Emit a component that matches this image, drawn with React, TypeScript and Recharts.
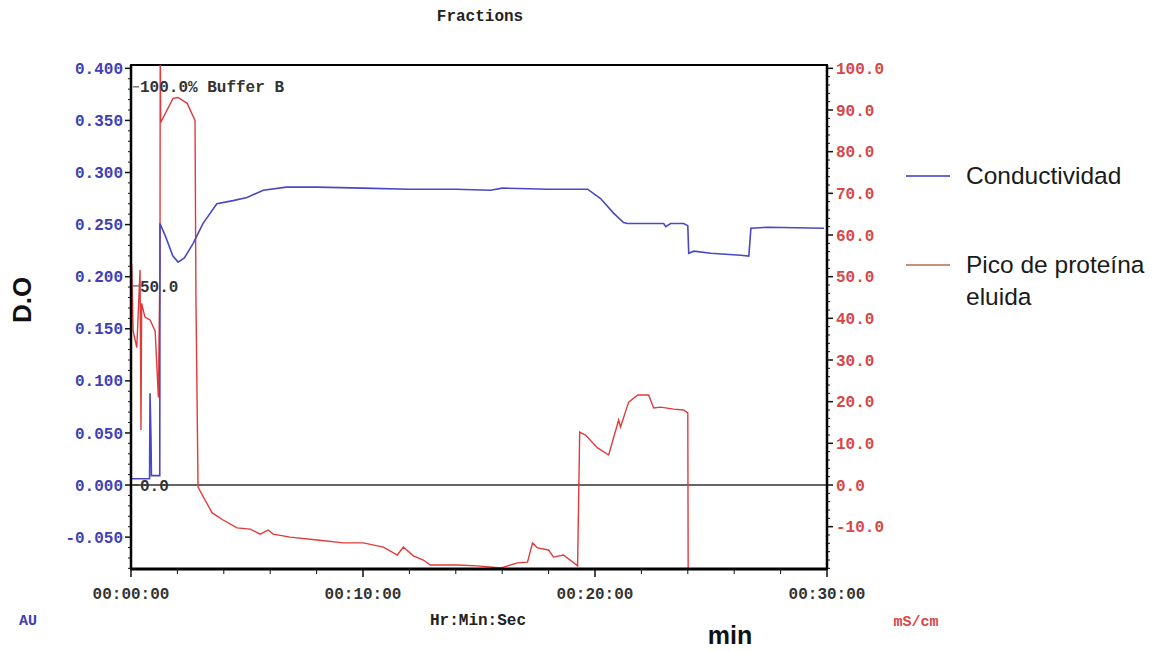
import { LineChart, Line, XAxis, YAxis, ReferenceLine, ReferenceArea, Legend } from "recharts";

// blue trace (left axis, AU)
const blueTimes = [0, 0.8, 0.82, 0.86, 0.88, 1.24, 1.25, 1.5, 1.8, 2.03, 2.3, 2.68, 3.1, 3.7, 4.4, 5.0, 5.7, 6.7, 8.0, 10, 12, 14, 15.5, 16, 18, 19.68, 20.24, 20.8, 21.23, 21.4, 22.96, 23.05, 23.26, 23.82, 24.0, 24.04, 24.26, 24.99, 26.28, 26.63, 26.72, 27.45, 29.87];
const blueOD = [0.006, 0.006, 0.088, 0.047, 0.009, 0.009, 0.251, 0.238, 0.22, 0.214, 0.218, 0.232, 0.251, 0.27, 0.273, 0.276, 0.283, 0.286, 0.286, 0.285, 0.284, 0.284, 0.283, 0.285, 0.284, 0.284, 0.275, 0.261, 0.252, 0.251, 0.251, 0.248, 0.251, 0.251, 0.249, 0.2225, 0.2245, 0.2225, 0.2206, 0.2197, 0.2465, 0.2475, 0.2465];

// red trace (right axis, mS/cm)
const redTimes = [0.03, 0.09, 0.25, 0.39, 0.43, 0.46, 0.6, 0.82, 1.04, 1.18, 1.25, 1.26, 1.28, 1.81, 2.03, 2.42, 2.76, 2.8, 2.89, 3.19, 3.5, 3.97, 4.57, 5.14, 5.57, 5.91, 6.13, 6.86, 8.03, 9.15, 10.01, 10.88, 11.48, 11.74, 12.17, 12.6, 12.9, 14.07, 14.93, 15.93, 16.06, 16.66, 17.09, 17.31, 17.52, 18.0, 18.21, 18.64, 19.25, 19.34, 19.59, 20.11, 20.59, 21.02, 21.1, 21.45, 21.84, 22.31, 22.53, 22.83, 23.39, 23.82, 24.0, 24.02];
const redCond = [53, 37, 33, 51.6, 13.2, 43.6, 40.3, 39.6, 37, 21, 54, 105, 87, 92.8, 93, 91.6, 87.5, 44.4, -0.5, -3.6, -6.7, -8.4, -10.3, -10.6, -11.8, -10.8, -11.8, -12.5, -13.2, -13.9, -13.9, -14.9, -16.8, -14.9, -17, -18, -19.2, -19.2, -19.4, -19.9, -19.7, -18.7, -18.5, -13.9, -15.1, -15.6, -17.3, -16.8, -19.4, 12.7, 12, 8.9, 7.2, 15.6, 13.9, 19.9, 21.6, 21.6, 18.5, 18.7, 18.2, 18, 17.3, -30];

const seriesNames = ["Conductividad", "Pico de proteína eluida"];
const timeLabelMinutes = [0, 10, 20, 30];
const timeLabels = ["00:00:00", "00:10:00", "00:20:00", "00:30:00"];
const leftLabels = [-0.05, 0, 0.05, 0.1, 0.15, 0.2, 0.25, 0.3, 0.35, 0.4];
const rightLabels = [-10, 0, 10, 20, 30, 40, 50, 60, 70, 80, 90, 100];
const bufferTicks = [0, 50, 100];
const bufferLabels = ["0.0", "50.0", "100.0% Buffer B"];

const blueData = blueTimes.map((t, i) => ({ t, od: blueOD[i] }));
const redData = redTimes.map((t, i) => ({ t, ms: redCond[i] }));

const leftTicks = Array.from({ length: 49 }, (_, i) => (i - 8) / 100);
const rightTicks = Array.from({ length: 61 }, (_, i) => i * 2 - 20);
const timeTicks = Array.from({ length: 16 }, (_, i) => i * 2);

const MONO = "'Liberation Mono', 'Courier New', monospace";
const SANS = "'Liberation Sans', Arial, sans-serif";
const BLUE = "#4848c6";
const RED = "#e23a3a";
const BLUE_TEXT = "#4040b4";
const RED_TEXT = "#d84646";
const legendSwatch = ["#6a6ad2", "#c8907c"];

const LEFT_DOMAIN: [number, number] = [-0.0806, 0.4032];
const RIGHT_DOMAIN: [number, number] = [-20.16, 100.8];
const BUFFER_DOMAIN: [number, number] = [-21.1, 105.5];

function LeftTick({ x, y, payload }: any) {
  const v = payload.value;
  const major = leftLabels.some((m) => Math.abs(m - v) < 1e-6);
  return (
    <g>
      <line x1={x} x2={x - (major ? 6 : 3)} y1={y} y2={y} stroke="#111" strokeWidth={major ? 1.5 : 1} />
      {major && (
        <text x={x - 8} y={y} dy="0.35em" textAnchor="end" fill={BLUE_TEXT} fontFamily={MONO} fontSize={16} fontWeight="bold">
          {v.toFixed(3)}
        </text>
      )}
    </g>
  );
}

function RightTick({ x, y, payload }: any) {
  const v = payload.value;
  const major = rightLabels.includes(v);
  return (
    <g>
      <line x1={x} x2={x + (major ? 6 : 3)} y1={y} y2={y} stroke="#111" strokeWidth={major ? 1.5 : 1} />
      {major && (
        <text x={x + 9} y={y} dy="0.35em" textAnchor="start" fill={RED_TEXT} fontFamily={MONO} fontSize={16} fontWeight="bold">
          {v.toFixed(1)}
        </text>
      )}
    </g>
  );
}

function TimeTick({ x, y, payload }: any) {
  const idx = timeLabelMinutes.indexOf(payload.value);
  const major = idx >= 0;
  return (
    <g>
      <line x1={x} x2={x} y1={y} y2={y + (major ? 8 : 5)} stroke="#111" strokeWidth={major ? 1.5 : 1} />
      {major && (
        <text x={x} y={y + 24} dy="0.35em" textAnchor="middle" fill="#333" fontFamily={MONO} fontSize={16} fontWeight="bold">
          {timeLabels[idx]}
        </text>
      )}
    </g>
  );
}

function BufferTick({ x, y, payload }: any) {
  const idx = bufferTicks.indexOf(payload.value);
  return (
    <g>
      <line x1={x + 2} x2={x + 8} y1={y} y2={y} stroke="#333" strokeWidth={1} />
      <text x={x + 9} y={y} dy="0.35em" fill="#333" fontFamily={MONO} fontSize={16} fontWeight="bold">
        {bufferLabels[idx]}
      </text>
    </g>
  );
}

function LegendBox() {
  return (
    <div style={{ position: "relative", width: 260, height: 170, fontFamily: SANS, fontSize: 24.5, color: "#1a1a1a" }}>
      <div style={{ position: "absolute", left: 6, top: 25, width: 44, height: 2, background: legendSwatch[0] }} />
      <div style={{ position: "absolute", left: 66, top: 12, lineHeight: "28px" }}>{seriesNames[0]}</div>
      <div style={{ position: "absolute", left: 6, top: 114, width: 44, height: 2, background: legendSwatch[1] }} />
      <div style={{ position: "absolute", left: 66, top: 99, width: 200, lineHeight: "32px" }}>{seriesNames[1]}</div>
    </div>
  );
}

function Txt({ x, y, children, style }: any) {
  return (
    <div style={{ position: "absolute", left: x, top: y, transform: "translate(-50%, -50%)", whiteSpace: "nowrap", ...style }}>
      {children}
    </div>
  );
}

export default function App() {
  return (
    <div style={{ position: "absolute", left: 0, top: 0, width: 1160, height: 651, background: "#fff" }}>
      <LineChart width={1160} height={651} margin={{ top: 65, right: 263, bottom: 42, left: 71 }}>
        <XAxis
          dataKey="t"
          type="number"
          domain={[0, 30]}
          ticks={timeTicks}
          interval={0}
          tick={<TimeTick />}
          tickLine={false}
          tickSize={0}
          tickMargin={0}
          height={40}
          axisLine={{ stroke: "#000", strokeWidth: 3 }}
          allowDataOverflow
        />
        <YAxis
          yAxisId="left"
          orientation="left"
          type="number"
          domain={LEFT_DOMAIN}
          ticks={leftTicks}
          interval={0}
          tick={<LeftTick />}
          tickLine={false}
          tickSize={0}
          tickMargin={0}
          width={60}
          axisLine={{ stroke: "#000", strokeWidth: 2.5 }}
          allowDataOverflow
        />
        <YAxis
          yAxisId="right"
          orientation="right"
          type="number"
          domain={RIGHT_DOMAIN}
          ticks={rightTicks}
          interval={0}
          tick={<RightTick />}
          tickLine={false}
          tickSize={0}
          tickMargin={0}
          width={70}
          axisLine={{ stroke: "#000", strokeWidth: 2.5 }}
          allowDataOverflow
        />
        <YAxis
          yAxisId="buffer"
          orientation="left"
          mirror
          type="number"
          domain={BUFFER_DOMAIN}
          ticks={bufferTicks}
          interval={0}
          tick={<BufferTick />}
          tickLine={false}
          tickSize={0}
          tickMargin={0}
          width={60}
          axisLine={false}
          allowDataOverflow
        />
        <ReferenceArea
          yAxisId="left"
          x1={0}
          x2={30}
          y1={LEFT_DOMAIN[0]}
          y2={LEFT_DOMAIN[1]}
          fill="none"
          stroke="#000"
          strokeWidth={2}
          ifOverflow="visible"
        />
        <ReferenceLine yAxisId="left" y={0} stroke="#333" strokeWidth={1.5} />
        <Line
          data={redData}
          dataKey="ms"
          name={seriesNames[1]}
          yAxisId="right"
          type="linear"
          stroke={RED}
          strokeWidth={1.4}
          dot={false}
          isAnimationActive={false}
        />
        <Line
          data={blueData}
          dataKey="od"
          name={seriesNames[0]}
          yAxisId="left"
          type="linear"
          stroke={BLUE}
          strokeWidth={1.6}
          dot={false}
          isAnimationActive={false}
        />
        <Legend
          layout="horizontal"
          align="center"
          verticalAlign="middle"
          wrapperStyle={{ left: 900, top: 150, width: 260, height: 170 }}
          content={<LegendBox />}
        />
      </LineChart>
      <Txt x={480} y={17} style={{ fontFamily: MONO, fontSize: 16, fontWeight: "bold", color: "#222" }}>Fractions</Txt>
      <Txt x={28} y={621} style={{ fontFamily: MONO, fontSize: 15, fontWeight: "bold", color: BLUE_TEXT }}>AU</Txt>
      <Txt x={478} y={621} style={{ fontFamily: MONO, fontSize: 16, fontWeight: "bold", color: "#222" }}>Hr:Min:Sec</Txt>
      <Txt x={916} y={622} style={{ fontFamily: MONO, fontSize: 15, fontWeight: "bold", color: RED_TEXT }}>mS/cm</Txt>
      <Txt x={730} y={635} style={{ fontFamily: SANS, fontSize: 25, fontWeight: "bold", color: "#111" }}>min</Txt>
      <Txt x={22} y={300} style={{ fontFamily: SANS, fontSize: 26, fontWeight: "bold", color: "#111", transform: "translate(-50%, -50%) rotate(-90deg)" }}>D.O</Txt>
    </div>
  );
}
